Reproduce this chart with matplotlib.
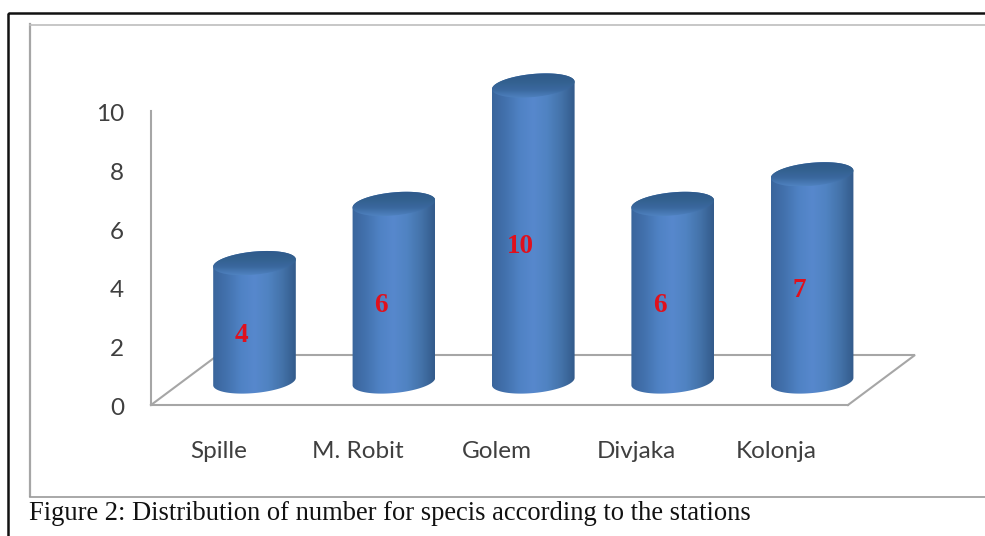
import numpy as np
import matplotlib
matplotlib.use("Agg")
import matplotlib.pyplot as plt
from matplotlib.colors import LinearSegmentedColormap
from matplotlib.path import Path
from matplotlib.patches import PathPatch, Rectangle
from matplotlib.transforms import ScaledTranslation

stations = ["Spille", "M. Robit", "Golem", "Divjaka", "Kolonja"]
species = [4, 6, 10, 6, 7]
y_ticks = [0, 2, 4, 6, 8, 10]
caption = "Figure 2: Distribution of number for specis according to the stations"

W, H = 985, 536
GRAY = "#a6a6a6"
TEXT = "#3f3f3f"

fig = plt.figure(figsize=(W / 100, H / 100), dpi=100, facecolor="white")

# capa de fondo en pixeles: marcos de la pagina y pie de figura
bg = fig.add_axes([0, 0, 1, 1])
bg.set_xlim(0, W)
bg.set_ylim(H, 0)
bg.axis("off")
bg.add_patch(Rectangle((8, 13), W + 20, H + 20, fill=False, ec="#111111", lw=1.8))
bg.plot([30, 30], [24, 496], color=GRAY, lw=1.6)
bg.plot([30, W], [24.5, 24.5], color="#bdbdbd", lw=1.2)
bg.plot([30, W], [496.5, 496.5], color="#9a9a9a", lw=1.2)
bg.text(29, 514, caption, family="Liberation Serif", fontsize=19.1, color="#111111",
        va="center", ha="left")

# ejes del grafico
left, right, bottom, top = 151, 848, 405, 111
ax = fig.add_axes([left / W, (H - bottom) / H, (right - left) / W, (bottom - top) / H])
ax.patch.set_alpha(0)

px_x = 139.4   # pixeles por estacion
px_y = (bottom - top) / 10
first = 254.5
xlim = ((left - first) / px_x, (right - first) / px_x)
ylim = (0, 10)

body_cmap = LinearSegmentedColormap.from_list(
    "body", ["#3a659c", "#4372ae", "#4f82c4", "#5788cd", "#5083c2", "#4473aa", "#335b8b"])
lid_cmap = LinearSegmentedColormap.from_list("lid", ["#2f5a8c", "#33608f", "#3a689e", "#4f82c0"])

a, b, tilt = 41.5, 11.5, np.radians(5.5)
base_px = 23.5   # elevacion de la base sobre el suelo frontal
px_val = 29.6    # pixeles por unidad en la altura del cilindro
grad_h = np.linspace(0, 1, 200).reshape(1, -1)
grad_v = np.linspace(0, 1, 60).reshape(-1, 1)


def arc(cx, cy_px, t):
    # elipse inclinada, calculada en pixeles y pasada a datos
    dx = a * np.cos(t) * np.cos(tilt) - b * np.sin(t) * np.sin(tilt)
    dy = a * np.cos(t) * np.sin(tilt) + b * np.sin(t) * np.cos(tilt)
    return cx + dx / px_x, (cy_px + dy) / px_y


def clipped(im, verts):
    codes = [Path.MOVETO] + [Path.LINETO] * (len(verts) - 2) + [Path.CLOSEPOLY]
    im.set_clip_box(fig.bbox)
    im.set_clip_path(PathPatch(Path(verts, codes), transform=ax.transData))


for i, v in enumerate(species):
    y0 = base_px
    y1 = base_px + v * px_val
    # cuerpo: arco inferior + arco superior
    xb, yb = arc(i, y0, np.linspace(np.pi, 2 * np.pi, 60))
    xt, yt = arc(i, y1, np.linspace(0, np.pi, 60))
    verts = np.r_[np.c_[xb, yb], np.c_[xt, yt], [[xb[0], yb[0]]]]
    im = ax.imshow(grad_h, cmap=body_cmap, aspect="auto", zorder=3,
                   extent=(i - a / px_x, i + a / px_x, 0, 12))
    clipped(im, verts)

    # tapa
    xl, yl = arc(i, y1, np.linspace(0, 2 * np.pi, 120))
    lid = ax.imshow(grad_v, cmap=lid_cmap, aspect="auto", zorder=4, origin="upper",
                    extent=(i - a / px_x, i + a / px_x, yl.min(), yl.max()))
    clipped(lid, np.c_[xl, yl])

    ax.text(i - 0.095, v / 2 + 0.38, str(v), color="#e0101c", family="Liberation Serif",
            fontweight="bold", fontsize=19.5, ha="center", va="center", zorder=5)

# suelo en perspectiva
dx_floor = 67 / px_x
dy_floor = 50 / px_y
ax.plot([xlim[0], xlim[0] + dx_floor, xlim[1] + dx_floor, xlim[1]],
        [0, dy_floor, dy_floor, 0], color=GRAY, lw=1.5, clip_on=False, zorder=1,
        solid_joinstyle="miter")

ax.set_xlim(*xlim)
ax.set_ylim(*ylim)
for s in ["top", "right"]:
    ax.spines[s].set_visible(False)
for s in ["left", "bottom"]:
    ax.spines[s].set_color(GRAY)
    ax.spines[s].set_linewidth(1.5)
ax.set_yticks(y_ticks)
ax.set_xticks(np.arange(len(stations)) - 0.26)
ax.set_xticklabels(stations)
ax.tick_params(axis="both", length=0, labelsize=17.5, labelcolor=TEXT)
ax.tick_params(axis="y", pad=19.5)
ax.tick_params(axis="x", pad=26)
for lab in ax.get_xticklabels() + ax.get_yticklabels():
    lab.set_family("Lato")
# las etiquetas de y van un poco mas abajo en el original
down = ScaledTranslation(0, -1.5 / 100, fig.dpi_scale_trans)
for lab in ax.get_yticklabels():
    lab.set_transform(lab.get_transform() + down)

fig.savefig("out.png", dpi=100, facecolor="white")
